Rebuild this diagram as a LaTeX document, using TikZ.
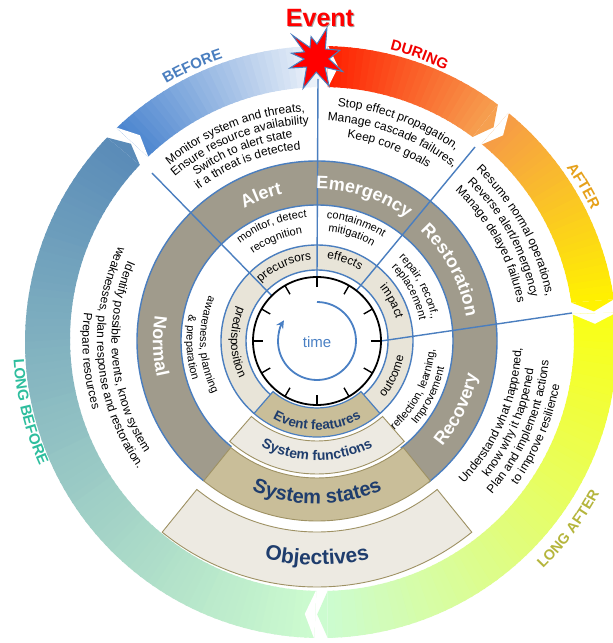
\documentclass[tikz,border=0pt]{standalone}
\usepackage{fontspec}
\setmainfont{Liberation Sans}
\usetikzlibrary{decorations.text,calc,arrows.meta}
\definecolor{blueline}{HTML}{4A7EBF}
\definecolor{graybrown}{HTML}{A09B8C}
\definecolor{beige}{HTML}{E8E4D8}
\definecolor{tanfill}{HTML}{C9BE99}
\definecolor{olivebd}{HTML}{9E9163}
\definecolor{lightbox}{HTML}{EDEAE2}
\definecolor{navy}{HTML}{1F3D6D}
\definecolor{timeblue}{HTML}{4A80C4}
\definecolor{cBefore}{HTML}{4A7EBF}
\definecolor{cDuring}{HTML}{F00000}
\definecolor{cAfter}{HTML}{E6A11A}
\definecolor{cLAfter}{HTML}{B5B53C}
\definecolor{cLBefore}{HTML}{2EBE9E}
\definecolor{cEvent}{HTML}{FF0000}
\definecolor{cLBs}{HTML}{CDFCCF}
\definecolor{cLBe}{HTML}{5A8BB8}
\definecolor{cBs}{HTML}{4A84CF}
\definecolor{cBe}{HTML}{EEF3FA}
\definecolor{cDs}{HTML}{FF1E00}
\definecolor{cDe}{HTML}{F6A050}
\definecolor{cAs}{HTML}{F69A48}
\definecolor{cAe}{HTML}{FFF200}
\definecolor{cLAs}{HTML}{FAFF14}
\definecolor{cLAe}{HTML}{CCFCD0}
% band segment: #1 start angle, #2 end angle (clockwise), #3 start colour, #4 end colour, #5 slices
\newcommand\bandseg[5]{%
\foreach \i in {1,...,#5}{%
\pgfmathsetmacro\bsA{(#1)-((#1)-(#2))*(\i-1)/#5}%
\pgfmathsetmacro\bsB{max((#2),(#1)-((#1)-(#2))*\i/#5-0.4)}%
\pgfmathtruncatemacro\bsP{round(100*(\i-0.5)/#5)}%
\fill[fill={#4!\bsP!#3}] ([shift={(4,-1)}]\bsA:296) arc[start angle=\bsA,end angle=\bsB,radius=296] -- ([shift={(5,2)}]\bsB:252) arc[start angle=\bsB,end angle=\bsA,radius=252] -- cycle;
}%
\pgfmathsetmacro\bsT{(#2)-2.2}%
\fill[fill=#4] ([shift={(4,-1)}]#2:296) -- ([shift={(4.5,0.5)}]\bsT:274) -- ([shift={(5,2)}]#2:252) -- cycle;
\pgfmathsetmacro\bsN{(#1)-2.2}%
\fill[white] ([shift={(4,-1)}]#1:297) -- ([shift={(4.5,0.5)}]\bsN:274) -- ([shift={(5,2)}]#1:251) -- cycle;
}
\newcommand\txtout[4]{\path[decorate,decoration={text along path,text align=center,text={#4}}] (#1+#3:#2) arc[start angle=#1+#3,end angle=#1-#3,radius=#2];}
\newcommand\txtin[4]{\path[decorate,decoration={text along path,text align=center,text={#4}}] (#1-#3:#2) arc[start angle=#1-#3,end angle=#1+#3,radius=#2];}
\newcommand\fT{\fontsize{12}{12}\selectfont}
\newcommand\fS{\fontsize{11}{11}\selectfont}
\newcommand\fB{\fontsize{12}{12}\selectfont}
\newcommand\fG{\color{white}\bfseries\fontsize{18}{18}\selectfont}
\newcommand\fN[1]{\color{navy}\bfseries\fontsize{#1}{#1}\selectfont}
\newcommand\fL[2]{\color{#1}\bfseries\fontsize{#2}{#2}\selectfont}
\begin{document}
\begin{tikzpicture}[x=1pt,y=1pt,
  bl/.style={draw=blueline,line width=1.4pt},
  boxol/.style={draw=olivebd,line width=0.9pt}]
\useasboundingbox (-317,-302) rectangle (296,341);
\fill[white] (-317,-302) rectangle (296,341);
% outer coloured ring
\bandseg{268.7}{136.3}{cLBs}{cLBe}{88}
\bandseg{133.7}{91.3}{cBs}{cBe}{30}
\bandseg{88.7}{53.3}{cDs}{cDe}{25}
\bandseg{50.7}{8.3}{cAs}{cAe}{30}
\bandseg{5.7}{-88.7}{cLAs}{cLAe}{64}
% gray state ring
\fill[graybrown] (-52:180) arc[start angle=-52,end angle=231,radius=180] -- (231:136) arc[start angle=231,end angle=-52,radius=136] -- cycle;
\draw[bl] (-52:136) arc[start angle=-52,end angle=231,radius=136];
\draw[bl] (-52:180) arc[start angle=-52,end angle=231,radius=180];
% beige event ring
\fill[beige] (-49:96) arc[start angle=-49,end angle=229,radius=96] -- (229:71) arc[start angle=229,end angle=-49,radius=71] -- cycle;
\draw[bl] (-49:71) arc[start angle=-49,end angle=229,radius=71];
\draw[bl] (-49:96) arc[start angle=-49,end angle=229,radius=96];
% dividers
\coordinate (d90) at (1,262);
\coordinate (d135) at (-165,168);
\coordinate (d52) at (158,194);
\coordinate (d6) at (255,28);
\draw[bl] (d90) -- (90:64);
\draw[bl] (d135) -- (135:64);
\draw[bl] (d52) -- (52:64);
\draw[bl] (d6) -- (0:64);
% bottom boxes
\filldraw[fill=tanfill,draw=blueline,line width=1.2pt] (229:67) arc[start angle=229,end angle=311,radius=67] -- (311:96) arc[start angle=311,end angle=229,radius=96] -- cycle;
\filldraw[fill=lightbox,boxol] (229:100) arc[start angle=229,end angle=311,radius=100] -- (311:133) arc[start angle=311,end angle=229,radius=133] -- cycle;
\filldraw[fill=tanfill,boxol] (231:137) arc[start angle=231,end angle=309,radius=137] -- (309:180) arc[start angle=309,end angle=231,radius=180] -- cycle;
\filldraw[fill=lightbox,boxol] (231:191) arc[start angle=231,end angle=309,radius=191] -- (309:246) arc[start angle=309,end angle=231,radius=246] -- cycle;
% clock
\fill[white] (0,0) circle[radius=64];
\draw[line width=1.8pt] (0,0) circle[radius=64];
\foreach \a in {0,30,...,330} \draw[line width=1.4pt] (\a:54) -- (\a:64);
\draw[timeblue,line width=1.8pt,-{Stealth[length=8pt,width=8pt]}] (90:39) arc[start angle=90,end angle=-212,radius=39];
\node[text=timeblue,font=\fontsize{15}{15}\selectfont] (time) at (0,-1) {time};
% outer labels
\txtout{114.4}{298}{40}{|\fL{cBefore}{15}|BEFORE}
\txtout{70.3}{300}{40}{|\fL{cDuring}{15}|DURING}
\txtout{30.2}{304}{40}{|\fL{cAfter}{15}|AFTER}
\txtin{-36.8}{321}{40}{|\fL{cLAfter}{14.5}|LONG AFTER}
\txtin{193.8}{304}{40}{|\fL{cLBefore}{15}|LONG BEFORE}
% outer text blocks
\txtout{111.5}{229.5}{50}{|\fT|Monitor system and threats,}
\txtout{111.5}{217}{50}{|\fT|Ensure resource availability}
\txtout{111.5}{204.5}{50}{|\fT|Switch to alert state}
\txtout{111.5}{192}{50}{|\fT|if a threat is detected}
\txtout{69.5}{235.5}{50}{|\fT|Stop effect propagation,}
\txtout{69.5}{220.5}{50}{|\fT|Manage cascade failures,}
\txtout{69.5}{205.5}{50}{|\fT|Keep core goals}
\txtout{29}{233.5}{50}{|\fT|Resume normal operations,}
\txtout{29}{218.5}{50}{|\fT|Reverse alert/emergency}
\txtout{29}{204}{50}{|\fT|Manage delayed failures}
\txtin{-23}{204.5}{50}{|\fT|Understand what happened,}
\txtin{-23}{218.5}{50}{|\fT|know why it happened}
\txtin{-23}{232.5}{50}{|\fT|Plan and implement actions}
\txtin{-23}{246.5}{50}{|\fT|to improve resilience}
\txtin{185}{205.5}{50}{|\fT|Identify possible events, know system}
\txtin{185}{220}{50}{|\fT|weaknesses, plan response and restoration.}
\txtin{185}{234.5}{50}{|\fT|Prepare resources}
% inner white ring texts
\txtout{111.5}{124}{55}{|\fS|monitor, detect}
\txtout{112}{108}{55}{|\fS|recognition}
\txtout{71.5}{123}{55}{|\fS|containment}
\txtout{72}{110}{55}{|\fS|mitigation}
\txtout{28}{116.5}{55}{|\fS|repair, reconf.,}
\txtout{28}{104.5}{55}{|\fS|replacement}
\txtin{-26.5}{118}{55}{|\fS|reflection, learning,}
\txtin{-26}{130}{55}{|\fS|Improvement}
\txtin{182}{117}{55}{|\fS|awareness, planning}
\txtin{183}{130.5}{55}{|\fS|{\&} preparation}
% beige ring texts
\txtout{114}{81}{60}{|\fB|precursors}
\txtout{71}{83}{60}{|\fB|effects}
\txtout{28}{82}{60}{|\fB|impact}
\txtin{-25}{88}{60}{|\fB|outcome}
\txtin{181}{86}{70}{|\fB|predisposition}
% gray ring labels
\txtout{111}{151}{40}{|\fG|Alert}
\txtout{72}{152}{40}{|\fG|Emergency}
\txtout{28}{151}{50}{|\fG|Restoration}
\txtin{-26}{164}{40}{|\fG|Recovery}
\txtin{182}{164}{40}{|\fG|Normal}
% box labels
\txtin{270}{89}{40}{|\fN{13.5}|Event features}
\txtin{270}{119.5}{40}{|\fN{14}|System functions}
\txtin{270}{163}{40}{|\fN{20}|System states}
\txtin{270}{224}{40}{|\fN{21}|Objectives}
% event star
\filldraw[fill=cEvent,draw=blueline,line width=1pt,shift={(-1,283)}] (18:25) -- (44:13) -- (70:32) -- (86:14) -- (103:22) -- (120:12) -- (136:33) -- (152:13) -- (169:25) -- (185:12) -- (201:28) -- (224:13) -- (247:33) -- (271:14) -- (295:31) -- (314:13) -- (333:30) -- (356:13) -- cycle;
\node[text=black,opacity=0.35,font=\bfseries\fontsize{25}{25}\selectfont] (evs) at (4,322) {Event};
\node[text=cEvent,font=\bfseries\fontsize{25}{25}\selectfont] (ev) at (3,323) {Event};
\end{tikzpicture}
\end{document}
